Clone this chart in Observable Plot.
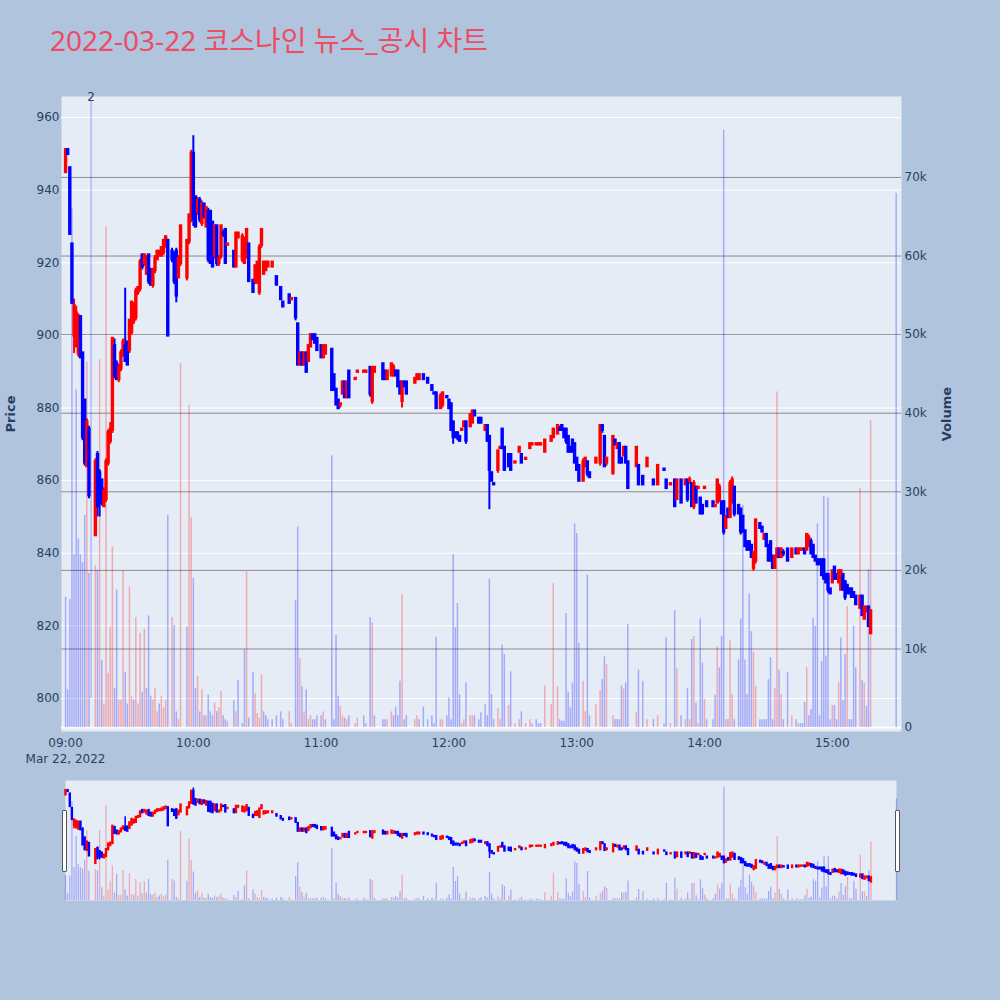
<!DOCTYPE html>
<html><head><meta charset="utf-8">
<script src="https://cdn.jsdelivr.net/npm/d3@7"></script>
<script src="https://cdn.jsdelivr.net/npm/@observablehq/plot@0.6"></script>
<style>
html,body{margin:0;padding:0;background:#b0c4de;}
#wrap{position:relative;width:1000px;height:1000px;overflow:hidden;background:#b0c4de;font-family:"DejaVu Sans",sans-serif;}
#title{position:absolute;left:50px;top:20px;font-size:28px;line-height:40px;color:#ec4d64;font-family:"Noto Sans","Noto Sans CJK KR",sans-serif;white-space:nowrap;}
.layer{position:absolute;}
.handle{position:absolute;width:3px;height:60px;background:#fff;border:1px solid #555;border-radius:1px;}
</style></head>
<body><div id="wrap"><div id="title"></div></div>
<script>
// ---------------- DATA ----------------
const chartTitle = "2022-03-22 코스나인 뉴스_공시 차트";
const axisTitles = ["Price", "Volume"];
const hourLabels = ["09:00","10:00","11:00","12:00","13:00","14:00","15:00"];
const dateLabel = "Mar 22, 2022";
const priceTicks = [800,820,840,860,880,900,920,940,960];
const volTicks = [0,10000,20000,30000,40000,50000,60000,70000];
const volLabels = ["0","10k","20k","30k","40k","50k","60k","70k"];

// minutes after 09:00 for each candle
const cMin = [
0,1,2,3,4,5,6,7,8,9,
10,11,14,15,16,17,18,19,20,21,
22,23,24,25,26,27,28,29,30,31,
32,33,34,35,36,37,38,39,40,41,
42,43,44,45,46,47,48,50,51,52,
53,54,57,58,59,60,61,62,63,64,
65,66,67,68,69,70,71,72,73,74,
75,76,79,80,81,83,84,85,86,88,
89,90,91,92,93,94,95,97,99,101,
102,105,106,108,109,110,111,112,113,114,
115,116,117,118,120,121,122,125,126,127,
128,129,130,131,132,133,136,137,140,141,
143,144,145,149,150,151,153,154,155,156,
157,158,159,160,164,165,166,168,170,172,
173,174,176,177,179,180,181,182,183,184,
185,186,187,188,190,191,192,194,195,197,
198,199,200,201,203,204,205,206,208,209,
211,213,214,216,218,219,221,222,223,225,
228,229,231,232,233,234,235,236,237,238,
239,240,241,243,244,245,246,249,251,252,
253,254,257,258,259,260,261,262,263,264,
268,269,271,273,276,278,281,282,284,286,
287,289,291,292,293,294,295,296,297,298,
299,300,301,304,305,306,307,308,309,310,
311,312,313,314,316,317,318,319,320,321,
322,323,324,326,327,328,329,330,331,332,
333,334,335,336,337,339,341,343,344,345,
346,347,348,349,350,351,352,353,354,355,
356,357,358,359,360,361,362,363,364,365,
366,367,368,369,370,371,373,374,375,376,
377,378];
const cOpen = [
945,951,946,925,900,897,895,905,895,882,
864,874,845,867,862,860,853,855,865,871,
874,897,892,888,891,895,897,898,896,901,
904,905,912,913,922,920,917,922,918,914,
918,921,922,922,923,925,926,923,922,923,
916,920,916,926,933,950,938,934,937,931,
936,930,934,934,931,922,930,920,922,928,
929,925,923,919,927,921,920,922,925,915,
915,915,912,925,917,918,919,919,916,913,
909,911,910,910,903,892,895,892,895,893,
897,900,900,899,897,894,895,896,889,885,
882,881,884,887,883,890,888,890,890,890,
891,882,890,892,890,888,889,889,890,890,
887,882,887,887,887,888,888,889,888,886,
884,884,880,881,883,882,881,876,873,873,
872,874,875,876,875,876,879,877,877,874,
875,872,862,859,863,869,874,869,867,867,
865,868,867,866,869,870,870,870,870,868,
871,872,873,874,875,874,874,872,869,871,
870,866,864,860,864,865,862,865,865,875,
872,865,862,871,869,870,866,867,869,865,
864,864,861,864,860,859,863,860,859,860,
855,860,859,860,860,859,853,858,858,855,
853,858,854,854,853,854,855,854,854,847,
852,850,854,858,853,852,850,846,843,843,
842,836,838,848,847,844,845,842,843,839,
836,839,841,839,840,841,839,841,840,841,
841,841,841,842,843,842,839,838,838,838,
838,834,834,830,832,836,834,832,830,834,
832,831,830,830,829,828,825,828,822,824,
825,818];
const cHigh = [
951,951,946,925,910,908,906,905,895,882,
877,875,866,868,863,860,858,866,874,876,
899,899,893,892,896,899,913,898,904,909,
909,913,913,921,922,922,922,922,918,918,
922,923,923,924,926,927,926,924,923,924,
922,930,926,933,951,955,938,938,938,937,
936,935,935,934,931,930,930,922,930,929,
929,925,923,928,928,928,927,929,925,915,
919,920,925,929,920,920,920,920,916,913,
909,911,910,910,903,895,895,895,895,897,
900,900,900,899,897,897,897,896,889,885,
882,881,887,887,887,890,888,890,890,890,
891,891,891,892,890,890,892,892,890,890,
887,887,887,887,888,889,889,889,888,886,
884,884,884,884,883,882,881,876,873,873,
872,874,876,876,878,879,879,877,877,875,
875,872,862,859,868,869,874,869,867,867,
865,869,867,866,870,870,870,870,870,871,
872,874,875,875,875,874,874,872,869,871,
870,866,864,866,866,865,862,866,875,875,
872,866,872,871,870,870,866,869,869,865,
869,864,861,866,860,864,863,860,859,860,
860,860,860,860,861,859,860,858,858,855,
853,858,854,854,853,860,859,854,854,850,
852,860,861,858,853,852,850,846,843,843,
842,840,849,848,847,845,845,842,843,839,
839,841,841,841,841,841,841,841,841,841,
841,841,845,845,844,842,839,838,838,838,
838,834,834,830,835,836,834,835,835,834,
832,831,830,830,829,828,828,828,825,825,
825,824];
const cLow = [
945,950,928,909,895,897,894,894,871,864,
864,855,845,850,850,853,853,854,864,870,
873,888,888,887,890,894,893,892,895,900,
903,904,911,912,918,919,917,914,914,913,
917,921,922,922,922,924,900,920,914,909,
916,919,915,925,931,930,930,933,931,930,
932,930,920,920,919,921,919,919,921,927,
920,925,919,919,927,920,920,921,915,912,
914,914,911,924,917,918,919,919,914,910,
908,909,910,904,892,892,892,892,890,893,
897,899,898,896,894,894,895,885,885,881,
880,880,884,883,883,883,888,890,890,890,
883,881,890,888,888,888,889,889,889,886,
884,880,886,884,887,888,888,888,887,885,
884,880,880,880,883,880,874,870,872,871,
871,874,875,870,875,876,878,876,876,874,
871,852,860,859,862,869,869,863,864,863,
865,868,865,866,869,870,870,870,870,868,
871,872,873,874,874,872,870,868,868,868,
865,863,860,860,864,861,861,865,864,873,
864,864,862,870,869,865,865,867,865,858,
864,859,859,864,859,859,863,858,859,853,
855,854,859,854,859,853,852,854,858,851,
851,858,853,853,853,854,854,851,845,847,
850,850,854,850,851,845,846,842,841,841,
839,835,837,847,846,844,842,838,838,836,
836,839,839,839,839,838,839,840,840,841,
841,840,841,842,840,839,838,837,837,834,
833,832,829,829,832,833,833,832,830,830,
827,829,829,828,828,826,825,823,822,824,
820,818];
const cClose = [
951,950,928,909,908,906,905,894,872,865,
876,856,865,853,855,854,857,865,873,874,
899,889,888,891,895,898,893,892,904,909,
908,912,913,920,919,922,921,915,914,918,
921,923,923,924,926,927,900,921,915,911,
921,930,926,933,950,932,930,937,932,936,
933,935,921,920,919,930,920,921,930,928,
920,925,919,928,928,927,926,929,915,912,
919,920,924,929,920,920,920,920,914,910,
908,909,910,905,892,895,892,895,890,897,
900,899,898,896,894,897,897,885,885,881,
880,881,887,883,887,883,888,890,890,890,
884,891,891,888,888,890,892,891,889,886,
884,887,886,884,888,889,889,888,887,885,
884,880,883,884,883,880,874,872,872,872,
871,874,876,871,878,879,878,876,876,875,
871,863,860,859,868,869,869,863,864,863,
865,869,865,866,870,870,870,870,870,871,
872,874,875,874,874,872,871,868,868,868,
865,863,860,865,866,862,861,866,875,874,
864,866,872,870,870,865,865,869,865,858,
869,859,859,866,859,864,863,858,859,853,
860,854,860,855,860,853,859,854,858,851,
851,858,853,853,853,860,858,851,846,850,
850,859,860,851,851,846,846,842,841,841,
839,840,849,847,846,845,842,838,838,836,
839,841,839,841,840,838,841,840,841,841,
841,840,845,844,840,839,838,837,837,834,
833,832,830,829,835,833,833,835,835,830,
828,829,829,828,828,826,828,823,825,825,
820,824];
// volume in thousands of shares
const cVolK = [
16.6,4.8,16.3,66,22,43,24,22,21,27,
46.5,19.6,20.6,20,46.8,8.5,3,63.7,6.9,12.8,
23,5,17.5,3.5,3.5,20,7,3,17.9,4,
3.5,14,3,12,4.5,12.5,5,14.2,4,3.5,
5,2,3,4,2.5,3.5,27,14,13,2,
1,46.3,12.8,41,26.7,19,5,6.5,2,4.8,
1.5,1.5,4.1,2,1.5,3.1,2,2.5,4.6,1.5,
1,0.8,3.4,2,6,0.5,9.9,19.8,1.2,7,
4.3,1.8,1.2,6.7,2,1.5,1,1,1.5,2,
1,2,0.5,16.2,25.5,8.8,5.2,2,4.8,1,
1.5,1,1,1.5,1.5,2,1,34.6,1,11.7,
4,2.7,1.5,1.2,1,1.5,0.5,1.2,1.5,0.5,
14,13.3,1.5,1,1,1,2,1.5,2.6,1.5,
5.9,16.9,1,1.5,1,1.5,1,2.6,1,1.5,
0.5,11.5,1,1,1.5,3.8,1,22,12.7,15.8,
4.2,0.5,1,5.7,1.5,1.5,1.5,1,1.9,2.9,
1.5,18.9,4.2,1,2.4,1,10.5,9.3,2.8,7.1,
0.5,1,2,0.5,1,0.5,1,0.5,0.5,5.3,
2.9,18.3,5.2,1,0.8,0.8,14.5,4.5,2.5,5.7,
25.9,24.7,10.7,5.9,2,19.4,1.5,2.9,4.7,6.1,
9,8,1.5,1,1,1,5.3,4.9,5.7,13.1,
1.9,7.3,5.9,1,1,1.5,0.5,11.4,0.5,14.9,
7.5,1.5,1,5,1,11.2,11.6,3.1,0.5,13.8,
8.2,3.6,1,1,4.1,10.3,7.6,11.6,76,1,
1,11,4.2,1,8.6,13.8,28.3,8.6,4.2,17,
12.2,9.6,5.2,1,1,1,1,6.1,8.9,1,
5,42.7,7.3,4.2,1,7,1.5,1,0.5,0.5,
0.5,3.2,7.6,1.5,2.3,13.9,12.9,25.9,1.5,8.4,
29.4,9.1,29.2,1,2.8,2.8,1,5.7,11.4,3.4,
9.3,15.4,1,1,12.9,7.6,30.4,6,5.7,2.7,
20.1,39.1];
// closing auction volume (no candle drawn)
const extraVolMin = [390];
const extraVolK = [68];
const extraVolUp = [false];
// news marker
const newsMin = [12];
const newsLabel = ["2"];
const newsBase = 800;

// ---------------- BUILD ----------------
document.getElementById("title").textContent = chartTitle;
const T0 = Date.UTC(2022, 2, 22, 9, 0);
const toDate = m => new Date(T0 + m * 60000);
const INC = "#ff0000", DEC = "#0000ff";
const VUP = "rgba(255,0,0,0.28)", VDN = "rgba(0,0,255,0.28)";
const INK = "#2a3f5f";
const FONT = "'DejaVu Sans', sans-serif";

const candles = cMin.map((m, i) => ({t: toDate(m), o: cOpen[i], h: cHigh[i], l: cLow[i], c: cClose[i], v: cVolK[i] * 1000}));
candles.forEach((d, i) => {
  const prev = i > 0 ? candles[i - 1].c : null;
  d.up = d.c > d.o || (d.c === d.o && prev !== null && d.c >= prev);
  d.vup = prev !== null && d.c > prev;
});
const vols = candles.map(d => ({t: d.t, v: d.v, up: d.vup}))
  .concat(extraVolMin.map((m, i) => ({t: toDate(m), v: extraVolK[i] * 1000, up: extraVolUp[i]})));
const news = newsMin.map((m, i) => ({t: toDate(m), label: newsLabel[i]}));
const hourDates = hourLabels.map((s, i) => toDate(i * 60));

const W = 1000, H = 780, ML = 61, MR = 99, MT = 96, MB = 49;
const xDomain = [toDate(-1.9), toDate(392.5)];
const priceDomain = [790.9, 965.8];
const volDomain = [-500, 80300];
const baseOpts = {width: W, height: H, marginLeft: ML, marginRight: MR, marginTop: MT, marginBottom: MB,
  style: {background: "transparent", fontFamily: FONT, fontSize: "12px", color: INK, overflow: "visible"}};

function addLayer(svg, left, top) {
  const div = document.createElement("div");
  div.className = "layer";
  div.style.left = left + "px"; div.style.top = top + "px";
  div.appendChild(svg);
  document.getElementById("wrap").appendChild(div);
}

const fmtX = d => {
  const i = hourDates.findIndex(h => h.getTime() === d.getTime());
  return i === 0 ? hourLabels[0] + "\n" + dateLabel : hourLabels[i];
};

// base: background, price grid, axes
addLayer(Plot.plot({
  ...baseOpts,
  x: {type: "utc", domain: xDomain},
  y: {domain: priceDomain},
  marks: [
    Plot.frame({fill: "#e5ecf6", stroke: "transparent"}),
    Plot.gridY(priceTicks, {stroke: "#ffffff", strokeOpacity: 1, strokeWidth: 1}),
    Plot.axisY(priceTicks, {anchor: "left", tickSize: 0, tickPadding: 2, label: null, fontSize: 12, fill: INK}),
    Plot.axisX(hourDates, {tickSize: 0, tickPadding: 4, label: null, tickFormat: fmtX, lineHeight: 1.35, fontSize: 12, fill: INK}),
    Plot.text([axisTitles[0]], {text: d => d, frameAnchor: "left", dx: -51, rotate: -90, textAnchor: "middle", fontSize: 13, fontWeight: "bold", fill: INK})
  ]
}), 0, 0);

// volume layer
addLayer(Plot.plot({
  ...baseOpts,
  x: {type: "utc", domain: xDomain, axis: null},
  y: {domain: volDomain, axis: null},
  color: {type: "identity"},
  marks: [
    Plot.ruleY(volTicks.filter(v => v > 0), {stroke: "#8c8c8c", strokeWidth: 1}),
    Plot.ruleY([0], {stroke: "#ffffff", strokeWidth: 2}),
    Plot.ruleX(vols, {x: "t", y1: 0, y2: "v", stroke: d => d.up ? VUP : VDN, strokeWidth: 1.5}),
    Plot.axisY(volTicks, {anchor: "right", tickSize: 0, tickPadding: 3, label: null, tickFormat: d => volLabels[volTicks.indexOf(d)], fontSize: 12, fill: INK}),
    Plot.text([axisTitles[1]], {text: d => d, frameAnchor: "right", dx: 45, rotate: -90, textAnchor: "middle", fontSize: 13, fontWeight: "bold", fill: INK})
  ]
}), 0, 0);

// candle layer
addLayer(Plot.plot({
  ...baseOpts,
  x: {type: "utc", domain: xDomain, axis: null},
  y: {domain: priceDomain, axis: null},
  color: {type: "identity"},
  marks: [
    Plot.ruleX(news, {x: "t", y1: newsBase, y2: priceDomain[1] - 1.4, stroke: VDN, strokeWidth: 1.2}),
    Plot.text(news, {x: "t", y: priceDomain[1], text: "label", fontSize: 12, fill: INK, dy: 1}),
    Plot.ruleX(candles, {x: "t", y1: "l", y2: "h", stroke: d => d.up ? INC : DEC, strokeWidth: 2}),
    Plot.ruleX(candles, {x: "t", y1: "o", y2: "c", stroke: d => d.up ? INC : DEC, strokeWidth: 3.4, strokeLinecap: "square"})
  ]
}), 0, 0);

// range slider
const sW = 831, sH = 120;
const sOpts = {width: sW, height: sH, margin: 0, style: {background: "transparent", overflow: "visible"}};
const sX = {type: "utc", domain: [toDate(0), toDate(390)], axis: null};
addLayer(Plot.plot({
  ...sOpts, x: sX, y: {domain: [0, 80300], axis: null}, color: {type: "identity"},
  marks: [
    Plot.frame({fill: "#e5ecf6", stroke: "transparent"}),
    Plot.ruleX(vols, {x: "t", y1: 0, y2: "v", stroke: d => d.up ? VUP : VDN, strokeWidth: 1.3})
  ]
}), 65, 780);
addLayer(Plot.plot({
  ...sOpts, x: sX, y: {domain: priceDomain, axis: null}, color: {type: "identity"},
  marks: [
    Plot.ruleX(candles, {x: "t", y1: "l", y2: "h", stroke: d => d.up ? INC : DEC, strokeWidth: 1.5}),
    Plot.ruleX(candles, {x: "t", y1: "o", y2: "c", stroke: d => d.up ? INC : DEC, strokeWidth: 2.4, strokeLinecap: "square"})
  ]
}), 65, 780);
for (const left of [62, 895]) {
  const h = document.createElement("div");
  h.className = "handle";
  h.style.left = left + "px"; h.style.top = "810px";
  document.getElementById("wrap").appendChild(h);
}
</script>
</body></html>
